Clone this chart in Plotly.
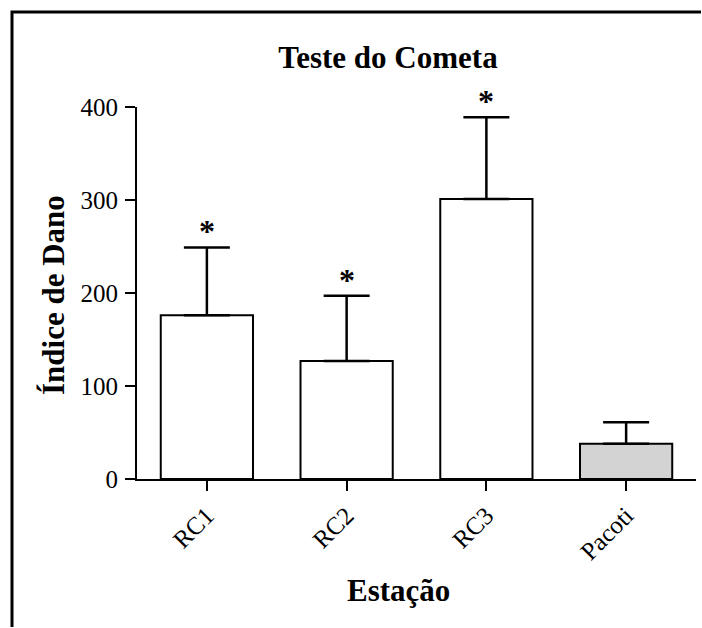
import plotly.graph_objects as go

# ---- data ----
stations = ["RC1", "RC2", "RC3", "Pacoti"]
damage_index = [176, 127, 301, 38]
damage_err = [73, 70, 88, 23]
bar_colors = ["white", "white", "white", "#d3d3d3"]
significant = [True, True, True, False]
y_ticks = [0, 100, 200, 300, 400]

W, H = 702, 628
ML, MR, MT, MB = 137, 6, 107, 149
FONT = "Liberation Serif, Times New Roman, serif"

fig = go.Figure()
fig.add_trace(go.Bar(
    x=stations, y=damage_index,
    marker=dict(color=bar_colors, line=dict(color="black", width=2)),
    width=0.66,
    error_y=dict(type="data", array=damage_err, arrayminus=[0] * len(damage_err),
                 symmetric=False, color="black", thickness=2.5, width=23),
    showlegend=False,
))

annotations = []
for s, v, e, sig in zip(stations, damage_index, damage_err, significant):
    if sig:
        annotations.append(dict(x=s, y=v + e, xref="x", yref="y", text="<b>*</b>",
                                showarrow=False, yanchor="bottom", yshift=-4,
                                font=dict(family=FONT, size=32, color="black")))

pw = W - ML - MR
ph = H - MT - MB
def px_to_paper_x(px):
    return (px - ML) / pw
def px_to_paper_y(py):
    return (H - MB - py) / ph

annotations.append(dict(x=px_to_paper_x(398), y=px_to_paper_y(590), xref="paper", yref="paper",
                        text="Estação", showarrow=False, xanchor="center", yanchor="middle",
                        font=dict(family=FONT, size=31, color="black", weight="bold")))
annotations.append(dict(x=px_to_paper_x(53), y=px_to_paper_y(295), xref="paper", yref="paper",
                        text="Índice de Dano", showarrow=False, textangle=-90,
                        xanchor="center", yanchor="middle",
                        font=dict(family=FONT, size=31, color="black", weight="bold")))

# figure frame (top and left edges) as one open path
frame_path = "M {l},{b} L {l},{t} L {r},{t}".format(
    l=px_to_paper_x(12), b=px_to_paper_y(H - 1), t=px_to_paper_y(12), r=px_to_paper_x(W - 1))
shapes = [dict(type="path", xref="paper", yref="paper", path=frame_path,
               line=dict(color="black", width=3))]

fig.update_layout(
    width=W, height=H,
    margin=dict(l=ML, r=MR, t=MT, b=MB, pad=0),
    paper_bgcolor="white", plot_bgcolor="white",
    font=dict(family=FONT, color="black"),
    title=dict(text="Teste do Cometa", x=388 / W, xanchor="center", xref="container",
               y=1 - 57 / H, yanchor="middle", yref="container",
               font=dict(family=FONT, size=31, color="black", weight="bold")),
    xaxis=dict(range=[-0.5, 3.5], showline=True, linecolor="black", linewidth=2,
               ticks="outside", ticklen=10, tickwidth=2, tickcolor="black",
               tickangle=-45, tickfont=dict(family=FONT, size=25, color="black"),
               showgrid=False, zeroline=False),
    yaxis=dict(range=[0, 400], tickvals=y_ticks, showline=True, linecolor="black", linewidth=2,
               ticks="outside", ticklen=10, tickwidth=2, tickcolor="black",
               tickfont=dict(family=FONT, size=25, color="black"), ticklabelstandoff=2,
               showgrid=False, zeroline=False),
    annotations=annotations,
    shapes=shapes,
)

fig.write_html("out.html")
